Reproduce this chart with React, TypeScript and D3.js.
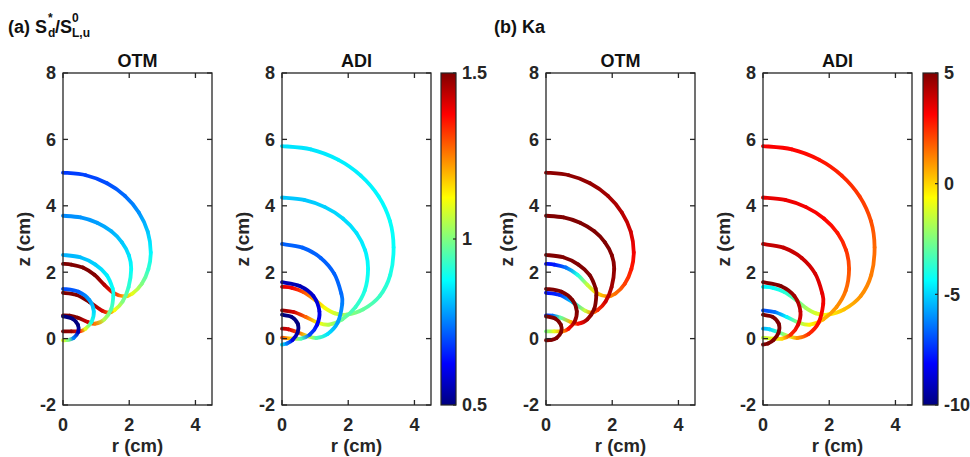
import React from "react";
import * as d3 from "d3";

// axis ticks
const zTicks = [-2, 0, 2, 4, 6, 8];
const rTicks = [0, 2, 4];
const sdTicks = [0.5, 1, 1.5];
const kaTicks = [-10, -5, 0, 5];

// flame fronts, [r, z] in cm, smallest first
const otmFronts = [
  [[0, 0.67], [0.28, 0.6], [0.45, 0.42], [0.46, 0.2], [0.32, 0.02], [0.15, -0.04], [0, -0.05]],
  [[0, 1.5], [0.47, 1.41], [0.8, 1.16], [0.93, 0.82], [0.86, 0.5], [0.68, 0.3], [0.5, 0.22], [0.25, 0.22], [0, 0.22]],
  [[0, 2.52], [0.52, 2.45], [0.98, 2.23], [1.32, 1.91], [1.5, 1.51], [1.52, 1.3], [1.46, 0.9], [1.25, 0.58], [0.98, 0.45], [0.75, 0.5], [0.45, 0.63], [0.2, 0.69], [0, 0.7]],
  [[0, 3.7], [0.53, 3.65], [1.03, 3.49], [1.46, 3.23], [1.78, 2.9], [1.99, 2.51], [2.06, 2.1], [1.98, 1.55], [1.8, 1.12], [1.56, 0.86], [1.38, 0.78], [1.18, 0.84], [0.8, 1.1], [0.4, 1.32], [0, 1.38]],
  [[0, 5.0], [0.69, 4.92], [1.33, 4.68], [1.87, 4.3], [2.29, 3.8], [2.56, 3.22], [2.65, 2.6], [2.58, 2.1], [2.38, 1.65], [2.1, 1.36], [1.85, 1.27], [1.55, 1.36], [1.25, 1.62], [0.95, 1.92], [0.6, 2.14], [0.25, 2.23], [0, 2.25]],
];

const adiFronts = [
  [[0, 0.72], [0.3, 0.65], [0.48, 0.44], [0.47, 0.18], [0.32, -0.04], [0.15, -0.15], [0, -0.18]],
  [[0, 1.7], [0.55, 1.58], [0.95, 1.28], [1.13, 0.82], [1.06, 0.42], [0.84, 0.12], [0.58, 0.0], [0.3, 0.0], [0, 0.03]],
  [[0, 2.85], [0.62, 2.74], [1.17, 2.43], [1.58, 1.95], [1.79, 1.36], [1.82, 1.05], [1.68, 0.48], [1.38, 0.14], [1.05, 0.02], [0.78, 0.07], [0.45, 0.2], [0.2, 0.28], [0, 0.3]],
  [[0, 4.25], [0.67, 4.18], [1.3, 3.96], [1.84, 3.62], [2.25, 3.18], [2.51, 2.66], [2.6, 2.1], [2.5, 1.45], [2.22, 0.95], [1.82, 0.58], [1.42, 0.42], [1.08, 0.48], [0.72, 0.65], [0.35, 0.8], [0, 0.85]],
  [[0, 5.8], [0.87, 5.7], [1.69, 5.39], [2.38, 4.91], [2.92, 4.28], [3.26, 3.54], [3.37, 2.75], [3.27, 1.92], [2.95, 1.28], [2.45, 0.88], [1.95, 0.72], [1.6, 0.76], [1.3, 0.92], [1.0, 1.16], [0.65, 1.4], [0.3, 1.53], [0, 1.56]],
];

// S_d* / S_L,u^0 along each front
const otmSd = [
  [0.5, 0.5, 0.5, 0.55, 0.75, 1.0, 1.1],
  [0.7, 0.72, 0.78, 0.84, 0.9, 1.1, 1.35, 1.48, 1.5],
  [0.8, 0.81, 0.83, 0.86, 0.88, 0.9, 0.95, 1.05, 1.25, 1.42, 1.5, 1.5, 1.5],
  [0.76, 0.77, 0.78, 0.8, 0.82, 0.85, 0.88, 0.92, 1.0, 1.12, 1.28, 1.42, 1.5, 1.5, 1.5],
  [0.68, 0.69, 0.7, 0.73, 0.77, 0.82, 0.87, 0.92, 1.0, 1.1, 1.2, 1.35, 1.45, 1.5, 1.5, 1.5, 1.5],
];
const adiSd = [
  [0.5, 0.5, 0.5, 0.52, 0.6, 0.75, 0.85],
  [0.55, 0.55, 0.58, 0.6, 0.62, 0.7, 0.95, 1.15, 1.3],
  [0.72, 0.72, 0.72, 0.72, 0.73, 0.75, 0.78, 0.85, 0.95, 1.1, 1.3, 1.42, 1.45],
  [0.82, 0.82, 0.83, 0.84, 0.85, 0.86, 0.88, 0.9, 0.93, 0.98, 1.05, 1.12, 1.28, 1.42, 1.48],
  [0.85, 0.85, 0.86, 0.86, 0.87, 0.88, 0.88, 0.9, 0.93, 0.97, 1.02, 1.08, 1.12, 1.2, 1.3, 1.38, 1.4],
];

// Karlovitz number along each front
const otmKa = [
  [5, 5, 5, 5, 5, 5, 5],
  [5, 5, 5, 5, 4.5, 3, 1, -1, -2.5],
  [5, 5, 5, 5, 5, 5, 5, 4.5, 3, 0.5, -3, -6.5, -7.5],
  [5, 5, 5, 5, 5, 4.9, 4.8, 4.5, 3.8, 2.5, 1, -1.5, -5, -7.5, -8],
  [4.8, 4.8, 4.7, 4.5, 4.2, 3.8, 3.3, 2.8, 2.2, 1.5, 1, 0, -1.5, -4, -6.5, -7.8, -8],
];
const adiKa = [
  [5, 5, 5, 5, 5, 5, 5],
  [5, 5, 4.5, 4, 3.5, 2.5, 0, -1, -1.5],
  [4, 4, 3.9, 3.7, 3.5, 3.3, 3, 2.5, 1, -1, -3.5, -5, -5.5],
  [3.5, 3.4, 3.3, 3.1, 2.8, 2.4, 2, 1.5, 1, 0.5, -0.5, -2, -4.5, -6.5, -7],
  [3.2, 3.1, 2.9, 2.6, 2.3, 2, 1.6, 1.3, 1, 0.3, -0.5, -1.2, -2, -3, -3.8, -4.3, -4.5],
];

// MATLAB jet
const jetColors = ["#000080", "#0000ff", "#00ffff", "#ffff00", "#ff0000", "#800000"];
const jetPos = [0, 0.125, 0.375, 0.625, 0.875, 1];

const font = "'Liberation Sans', Arial, Helvetica, sans-serif";
const ink = "#262626";
const top = 73;
const bottom = 405;
const axW = 149;

function jet(lo: number, hi: number) {
  return d3
    .scaleLinear<string>()
    .domain(jetPos.map((t) => lo + t * (hi - lo)))
    .range(jetColors)
    .interpolate(d3.interpolateRgb)
    .clamp(true);
}

function Panel({ id, left, title, fronts, values, color }: any) {
  const x = d3.scaleLinear().domain([0, 4.5]).range([left, left + axW]);
  const y = d3.scaleLinear().domain([-2, 8]).range([bottom, top]);

  // each piece between two read points is a Catmull-Rom bezier, coloured by a gradient
  const segs: any[] = [];
  fronts.forEach((pts: number[][], f: number) => {
    const p = pts.map(([r, z]) => [x(r), y(z)]);
    const v = values[f];
    for (let i = 0; i < p.length - 1; i++) {
      const a = p[Math.max(i - 1, 0)];
      const b = p[i];
      const c = p[i + 1];
      const d = p[Math.min(i + 2, p.length - 1)];
      const path = d3.path();
      path.moveTo(b[0], b[1]);
      path.bezierCurveTo(
        b[0] + (c[0] - a[0]) / 6,
        b[1] + (c[1] - a[1]) / 6,
        c[0] - (d[0] - b[0]) / 6,
        c[1] - (d[1] - b[1]) / 6,
        c[0],
        c[1]
      );
      segs.push({
        key: `${id}-${f}-${i}`,
        d: path.toString(),
        x1: b[0], y1: b[1], x2: c[0], y2: c[1],
        c1: color(v[i]), c2: color(v[i + 1]),
      });
    }
  });

  return (
    <g>
      <defs>
        {segs.map((s) => (
          <linearGradient key={s.key} id={s.key} gradientUnits="userSpaceOnUse" x1={s.x1} y1={s.y1} x2={s.x2} y2={s.y2}>
            <stop offset="0" stopColor={s.c1} />
            <stop offset="1" stopColor={s.c2} />
          </linearGradient>
        ))}
      </defs>
      {segs.slice().reverse().map((s) => (
        <path key={s.key} d={s.d} fill="none" stroke={`url(#${s.key})`} strokeWidth={3.8} strokeLinecap="round" />
      ))}
      <rect x={left} y={top} width={axW} height={bottom - top} fill="none" stroke={ink} strokeWidth={1.3} />
      {zTicks.map((t) => (
        <g key={"z" + t}>
          <line x1={left} x2={left + 5} y1={y(t)} y2={y(t)} stroke={ink} strokeWidth={1.3} />
          <line x1={left + axW - 5} x2={left + axW} y1={y(t)} y2={y(t)} stroke={ink} strokeWidth={1.3} />
          <text x={left - 7} y={y(t)} dy="0.35em" textAnchor="end" fontSize={18} fontWeight="bold" fill={ink}>
            {t}
          </text>
        </g>
      ))}
      {rTicks.map((t) => (
        <g key={"r" + t}>
          <line x1={x(t)} x2={x(t)} y1={bottom} y2={bottom - 5} stroke={ink} strokeWidth={1.3} />
          <line x1={x(t)} x2={x(t)} y1={top} y2={top + 5} stroke={ink} strokeWidth={1.3} />
          <text x={x(t)} y={431} textAnchor="middle" fontSize={18} fontWeight="bold" fill={ink}>
            {t}
          </text>
        </g>
      ))}
      <text x={left + axW / 2} y={67} textAnchor="middle" fontSize={18} fontWeight="bold" fill="#111">
        {title}
      </text>
      <text x={left + axW / 2} y={452} textAnchor="middle" fontSize={18.5} fontWeight="bold" fill={ink}>
        r (cm)
      </text>
      <text
        transform={`translate(${left - 33},${(top + bottom) / 2}) rotate(-90)`}
        textAnchor="middle"
        fontSize={19}
        fontWeight="bold"
        fill={ink}
      >
        z (cm)
      </text>
    </g>
  );
}

function Colorbar({ id, left, lo, hi, ticks }: any) {
  const y = d3.scaleLinear().domain([lo, hi]).range([bottom, top]);
  const w = 15;
  return (
    <g>
      <defs>
        <linearGradient id={id} x1="0" y1="1" x2="0" y2="0">
          {jetPos.map((t, i) => (
            <stop key={t} offset={t} stopColor={jetColors[i]} />
          ))}
        </linearGradient>
      </defs>
      <rect x={left} y={top} width={w} height={bottom - top} fill={`url(#${id})`} stroke={ink} strokeWidth={1.2} />
      {ticks.map((t: number) => (
        <g key={t}>
          <line x1={left + w - 3} x2={left + w} y1={y(t)} y2={y(t)} stroke={ink} strokeWidth={1.2} />
          <text x={left + w + 6} y={y(t)} dy="0.35em" fontSize={18} fontWeight="bold" fill={ink}>
            {t}
          </text>
        </g>
      ))}
    </g>
  );
}

export default function App() {
  const sdColor = jet(0.5, 1.5);
  const kaColor = jet(-10, 5);
  return (
    <svg
      width={970}
      height={457}
      style={{ position: "absolute", left: 0, top: 0, background: "#fff" }}
      fontFamily={font}
    >
      <rect width={970} height={457} fill="#fff" />
      <text x={8} y={33} fontSize={18} fontWeight="bold" fill="#111">(a) S</text>
      <text x={48} y={22} fontSize={12} fontWeight="bold" fill="#111">*</text>
      <text x={48} y={37} fontSize={12} fontWeight="bold" fill="#111">d</text>
      <text x={55} y={33} fontSize={18} fontWeight="bold" fill="#111">/S</text>
      <text x={72} y={22} fontSize={12} fontWeight="bold" fill="#111">0</text>
      <text x={72} y={37} fontSize={12} fontWeight="bold" fill="#111">L,u</text>
      <text x={494} y={33} fontSize={18} fontWeight="bold" fill="#111">(b) Ka</text>

      <Panel id="p1" left={63} title="OTM" fronts={otmFronts} values={otmSd} color={sdColor} />
      <Panel id="p2" left={282} title="ADI" fronts={adiFronts} values={adiSd} color={sdColor} />
      <Colorbar id="cb1" left={441} lo={0.5} hi={1.5} ticks={sdTicks} />
      <Panel id="p3" left={546} title="OTM" fronts={otmFronts} values={otmKa} color={kaColor} />
      <Panel id="p4" left={763} title="ADI" fronts={adiFronts} values={adiKa} color={kaColor} />
      <Colorbar id="cb2" left={923} lo={-10} hi={5} ticks={kaTicks} />
    </svg>
  );
}
